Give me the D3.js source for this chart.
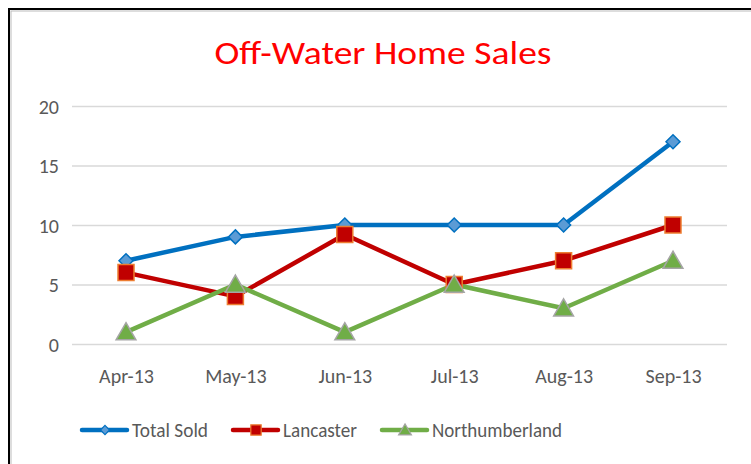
<!DOCTYPE html>
<html><head><meta charset="utf-8">
<script src="https://cdn.jsdelivr.net/npm/d3@7"></script>
<style>body{margin:0;background:#fff}svg{display:block}</style>
</head><body><svg id="c" width="751" height="464"></svg>
<script>
const categories = ["Apr-13","May-13","Jun-13","Jul-13","Aug-13","Sep-13"];
const totalSold = [7, 9, 10, 10, 10, 17];
const lancaster = [6, 4, 9.2, 5, 7, 10];
const northumberland = [1, 5, 1, 5, 3, 7];
const yTicks = [0, 5, 10, 15, 20];
const seriesNames = ["Total Sold", "Lancaster", "Northumberland"];

const series = [
  {name: seriesNames[0], values: totalSold, line: "#0070c0", fill: "#5b9bd5", stroke: "#0070c0", shape: "diamond"},
  {name: seriesNames[1], values: lancaster, line: "#c00000", fill: "#c00000", stroke: "#ed7d31", shape: "square"},
  {name: seriesNames[2], values: northumberland, line: "#70ad47", fill: "#70ad47", stroke: "#a5a5a5", shape: "triangle"}
];

const svg = d3.select("#c");
const font = "Calibri, Carlito, Lato, 'Open Sans', sans-serif";

// border
svg.append("rect").attr("x", 9).attr("y", 9).attr("width", 760).attr("height", 470)
  .attr("fill", "none").attr("stroke", "#000").attr("stroke-width", 2);
svg.append("rect").attr("x", 11).attr("y", 11).attr("width", 760).attr("height", 470)
  .attr("fill", "none").attr("stroke", "#bbb").attr("stroke-width", 1);

// title
svg.append("text").attr("x", 383).attr("y", 64).attr("text-anchor", "middle")
  .attr("font-family", font).attr("font-size", 32).attr("font-weight", 300).attr("fill", "#ff0000")
  .attr("textLength", 337).attr("lengthAdjust", "spacingAndGlyphs")
  .text("Off-Water Home Sales");

const x = d3.scalePoint().domain(categories).range([126, 673]);
const y = d3.scaleLinear().domain([0, 20]).range([344, 106]);

// gridlines
const yAxis = d3.axisLeft(y).tickValues(yTicks).tickSize(-(727 - 72)).tickPadding(13);
const gy = svg.append("g").attr("transform", "translate(72,0)").call(yAxis);
gy.select(".domain").remove();
gy.selectAll(".tick line").attr("stroke", "#d9d9d9").attr("stroke-width", 1.5);
gy.selectAll(".tick text").attr("font-family", font).attr("font-size", 20).attr("fill", "#595959")
  .attr("dy", "0.35em");

// x axis
const xAxis = d3.axisBottom(x).tickSize(0).tickPadding(25);
const gx = svg.append("g").attr("transform", "translate(0,344)").call(xAxis);
gx.select(".domain").remove();
gx.selectAll(".tick text").attr("font-family", font).attr("font-size", 20).attr("fill", "#595959");

function symbolPath(shape, s) {
  if (shape === "diamond") return `M0,${-s}L${s},0L0,${s}L${-s},0Z`;
  if (shape === "square") return `M${-s},${-s}H${s}V${s}H${-s}Z`;
  return `M0,${-s*1.05}L${s*1.1},${s*0.85}L${-s*1.1},${s*0.85}Z`;
}
const sizes = {diamond: 7, square: 8, triangle: 9};

const line = d3.line().x((d, i) => x(categories[i])).y(d => y(d));
series.forEach(s => {
  svg.append("path").attr("d", line(s.values)).attr("fill", "none")
    .attr("stroke", s.line).attr("stroke-width", 4.5).attr("stroke-linejoin", "round").attr("stroke-linecap", "round");
});
series.forEach(s => {
  svg.append("g").selectAll("path").data(s.values).join("path")
    .attr("transform", (d, i) => `translate(${x(categories[i])},${y(d)})`)
    .attr("d", symbolPath(s.shape, sizes[s.shape]))
    .attr("fill", s.fill).attr("stroke", s.stroke).attr("stroke-width", 1.5);
});

// legend
const legendX = [82, 233, 382];
const legendY = 430;
const legendTextW = [76, 74, 130];
series.forEach((s, i) => {
  const g = svg.append("g").attr("transform", `translate(${legendX[i]},${legendY})`);
  g.append("line").attr("x1", 0).attr("x2", 45).attr("y1", 0).attr("y2", 0)
    .attr("stroke", s.line).attr("stroke-width", 4.5).attr("stroke-linecap", "round");
  g.append("path").attr("transform", "translate(23,0)")
    .attr("d", symbolPath(s.shape, sizes[s.shape] * 0.65))
    .attr("fill", s.fill).attr("stroke", s.stroke).attr("stroke-width", 1.2);
  g.append("text").attr("x", 50).attr("y", 0).attr("dy", "0.35em")
    .attr("font-family", font).attr("font-size", 20).attr("fill", "#595959")
    .attr("textLength", legendTextW[i]).attr("lengthAdjust", "spacingAndGlyphs")
    .text(s.name);
});
</script></body></html>
